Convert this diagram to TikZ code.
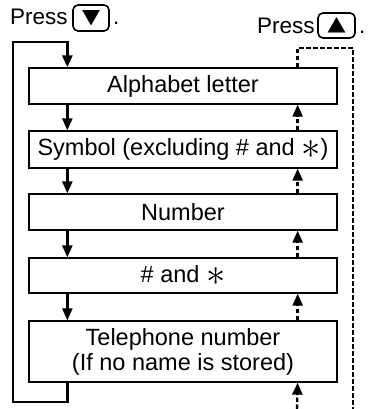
\documentclass[tikz,border=0pt]{standalone}
\usepackage{fontspec}
\setmainfont{Liberation Sans}
\newfontfamily\symfont{DejaVu Sans}
\usetikzlibrary{arrows.meta}
\newcommand{\bigast}{\raisebox{-2.5pt}{\scalebox{1.55}{$\ast$}}}
\newcommand{\keysym}[1]{\resizebox{18pt}{13pt}{\symfont #1}}
\begin{document}
\begin{tikzpicture}[x=1pt,y=-1pt,
  box/.style={draw, line width=1.3pt, minimum width=308pt, inner sep=0pt, align=center,
              font=\fontsize{23.5}{25}\selectfont},
  lbl/.style={inner sep=0pt, font=\fontsize{22.5}{24}\selectfont},
  keybox/.style={draw, line width=1.6pt, rounded corners=5pt,
                 inner sep=0pt},
  downarr/.style={line width=2.4pt, -{Triangle[length=12pt,width=10pt]}},
  looparr/.style={line width=2.8pt, -{Triangle[length=12pt,width=10pt]}},
  uparr/.style={line width=2.4pt, dash pattern=on 4.5pt off 2.5pt, -{Triangle[length=12pt,width=10pt]}},
  upline/.style={line width=2.4pt, dash pattern=on 4.5pt off 2.5pt}
]
\useasboundingbox (0,0) rectangle (367,409);

% boxes
\node[box, minimum height=36pt] (b1) at (183,86) {Alphabet letter};
\node[box, minimum height=37pt] (b2) at (183,149.5) {Symbol (excluding \# and \bigast)};
\node[box, minimum height=36pt] (b3) at (183,212) {Number};
\node[box, minimum height=35pt] (b4) at (183,275.5) {\# and \bigast};
\node[box, minimum height=61pt] (b5) at (183,351.5) {Telephone number\\(If no name is stored)};

% labels
\node[lbl, anchor=base west] (p1) at (10,25) {Press};
\node[keybox, minimum width=36pt, minimum height=26pt] (k1) at (91,18) {\keysym{▼}};
\node[lbl, anchor=base west] (d1) at ([xshift=3pt]k1.east |- p1.base) {.};

\node[lbl, anchor=base west] (p2) at (257,33.5) {Press};
\node[keybox, minimum width=37pt, minimum height=25pt] (k2) at (336.5,25.5) {\keysym{▲}};
\node[lbl, anchor=base west] (d2) at ([xshift=3pt]k2.east |- p2.base) {.};

% down arrows
\foreach \a/\b in {b1/b2,b2/b3,b3/b4,b4/b5}
  \draw[downarr] ([xshift=39pt]\a.south west) -- ([xshift=39pt]\b.north west);

% loop back
\coordinate (lb) at (13,402);
\coordinate (lt) at (13,42);
\draw[looparr] ([xshift=39pt]b5.south west) |- (lb) -- (lt) -| ([xshift=39pt]b1.north west);

% up arrows
\foreach \a/\b in {b2/b1,b3/b2,b4/b3,b5/b4}
  \draw[uparr] ([xshift=-40pt]\a.north east) -- ([xshift=-40pt]\b.south east);

\coordinate (rt) at (353,48);
\coordinate (rb) at (353,409);
\coordinate (ub) at (297,409);
\draw[upline] ([xshift=-40pt]b1.north east) |- (rt) -- (rb);
\draw[uparr] (ub) -- ([xshift=-40pt]b5.south east);
\end{tikzpicture}
\end{document}
